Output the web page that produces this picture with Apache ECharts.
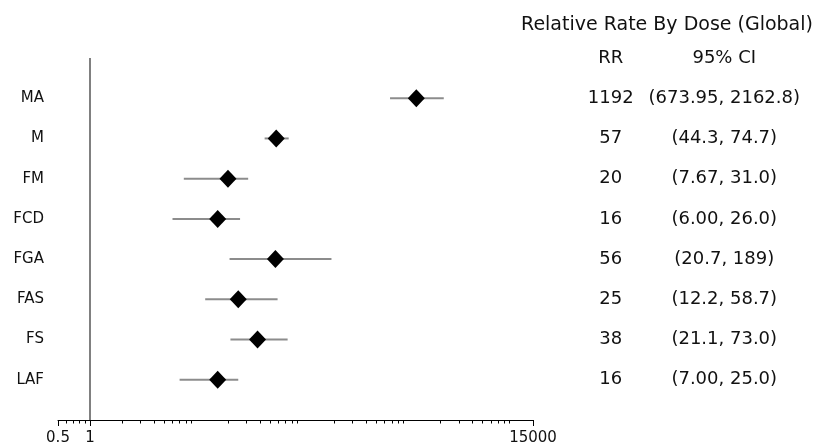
<!DOCTYPE html>
<html>
<head>
<meta charset="utf-8">
<script src="https://cdn.jsdelivr.net/npm/echarts@6/dist/echarts.min.js"></script>
<style>html,body{margin:0;padding:0;background:#fff;}#c{width:831px;height:447px;}</style>
</head>
<body>
<div id="c"></div>
<script>
const categories = ['MA', 'M', 'FM', 'FCD', 'FGA', 'FAS', 'FS', 'LAF'];
const rr = [1192, 57, 20, 16, 56, 25, 38, 16];
const ciLow = [673.95, 44.3, 7.67, 6.00, 20.7, 12.2, 21.1, 7.00];
const ciHigh = [2162.8, 74.7, 31.0, 26.0, 189, 58.7, 73.0, 25.0];
const rrLabels = ['1192', '57', '20', '16', '56', '25', '38', '16'];
const ciLabels = ['(673.95, 2162.8)', '(44.3, 74.7)', '(7.67, 31.0)', '(6.00, 26.0)', '(20.7, 189)', '(12.2, 58.7)', '(21.1, 73.0)', '(7.00, 25.0)'];
const xTickLabels = [0.5, 1, 15000];
const minorTicks = [0.6, 0.7, 0.8, 0.9,
  2, 3, 4, 5, 6, 7, 8, 9,
  20, 30, 40, 50, 60, 70, 80, 90,
  200, 300, 400, 500, 600, 700, 800, 900,
  2000, 3000, 4000, 5000, 6000, 7000, 8000, 9000];
const tableHeaders = ['RR', '95% CI'];
const titleText = 'Relative Rate By Dose (Global)';

const FONT = 'DejaVu Sans';
const n = categories.length;
const yPos = categories.map((_, i) => n - i);

const chart = echarts.init(document.getElementById('c'), null, {renderer: 'canvas'});

const tableData = [];
tableData.push({value: [0, n + 1], txt: tableHeaders[0]});
tableData.push({value: [1, n + 1], txt: tableHeaders[1]});
for (let i = 0; i < n; i++) {
  tableData.push({value: [0, yPos[i]], txt: rrLabels[i]});
  tableData.push({value: [1, yPos[i]], txt: ciLabels[i]});
}

const option = {
  animation: false,
  backgroundColor: '#fff',
  title: {
    text: titleText,
    left: 667, top: 16, padding: 0,
    textAlign: 'center',
    textStyle: {fontFamily: FONT, fontSize: 19, fontWeight: 'normal', color: '#111'}
  },
  grid: [
    {left: 58, right: 298, top: 58, bottom: 27},
    {left: 554, right: 50, top: 58, bottom: 27}
  ],
  xAxis: [
    {
      gridIndex: 0, type: 'log', logBase: 10, min: 0.5, max: 15000,
      axisLine: {show: true, lineStyle: {color: '#000', width: 1}},
      axisTick: {show: true, length: 6, lineStyle: {color: '#000'}, customValues: xTickLabels},
      axisLabel: {show: true, customValues: xTickLabels, margin: 11,
        fontFamily: FONT, fontSize: 15, color: '#111',
        formatter: v => String(v)},
      splitLine: {show: false}
    },
    {
      gridIndex: 0, type: 'log', logBase: 10, min: 0.5, max: 15000, position: 'bottom',
      axisLine: {show: false},
      axisTick: {show: true, length: 3.5, lineStyle: {color: '#000'}, customValues: minorTicks},
      axisLabel: {show: false},
      splitLine: {show: false}
    },
    {
      gridIndex: 1, type: 'category', data: tableHeaders, boundaryGap: true, show: false
    }
  ],
  yAxis: [
    {
      gridIndex: 0, type: 'value', min: 0, max: n + 1,
      axisLine: {show: false}, axisTick: {show: false}, splitLine: {show: false},
      axisLabel: {show: true, customValues: yPos, margin: 14,
        fontFamily: FONT, fontSize: 15, color: '#111',
        formatter: v => categories[n - v]}
    },
    {
      gridIndex: 1, type: 'value', min: 0, max: n + 1, show: false
    }
  ],
  series: [
    {
      type: 'custom', xAxisIndex: 0, yAxisIndex: 0,
      data: categories.map((c, i) => [ciLow[i], ciHigh[i], yPos[i]]),
      renderItem: (params, api) => {
        const p1 = api.coord([api.value(0), api.value(2)]);
        const p2 = api.coord([api.value(1), api.value(2)]);
        return {type: 'line', shape: {x1: p1[0], y1: p1[1], x2: p2[0], y2: p2[1]},
          style: {stroke: '#8c8c8c', lineWidth: 2}};
      },
      markLine: {
        silent: true, symbol: 'none', label: {show: false},
        lineStyle: {color: '#808080', width: 2, type: 'solid'},
        data: [{xAxis: 1}]
      },
      z: 2
    },
    {
      type: 'scatter', xAxisIndex: 0, yAxisIndex: 0,
      symbol: 'diamond', symbolSize: [17, 18],
      itemStyle: {color: '#000', opacity: 1},
      data: rr.map((v, i) => [v, yPos[i]]),
      z: 3
    },
    {
      type: 'scatter', xAxisIndex: 2, yAxisIndex: 1,
      symbolSize: 0, clip: false,
      itemStyle: {opacity: 1},
      data: tableData,
      label: {show: true, position: 'inside', fontFamily: FONT, fontSize: 18, color: '#111',
        formatter: p => p.data.txt}
    }
  ]
};
chart.setOption(option);
</script>
</body>
</html>
